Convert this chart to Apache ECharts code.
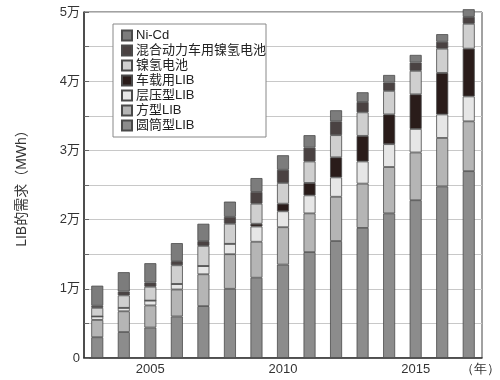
<!DOCTYPE html>
<html>
<head>
<meta charset="utf-8">
<script src="https://cdn.jsdelivr.net/npm/echarts@6/dist/echarts.min.js"></script>
<style>html,body{margin:0;padding:0;background:#fff;}#c{width:500px;height:380px;}</style>
</head>
<body>
<div id="c"></div>
<script>
var years = ['2003','2004','2005','2006','2007','2008','2009','2010','2011','2012','2013','2014','2015','2016','2017'];
var cylindrical = [3000, 3750, 4400, 6000, 7500, 10000, 11600, 13500, 15300, 16900, 18800, 20900, 22800, 24800, 27000];
var prismatic   = [2500, 3000, 3200, 3900, 4600, 5000, 5200, 5400, 5600, 6400, 6400, 6700, 6900, 7000, 7200];
var laminate    = [500, 500, 700, 800, 1200, 1500, 2200, 2300, 2600, 2800, 3200, 3300, 3400, 3400, 3600];
var automotive  = [0, 0, 0, 0, 0, 0, 400, 1100, 1800, 2900, 3700, 4300, 5000, 6000, 6900];
var nimh        = [1250, 1800, 2000, 2700, 2900, 2900, 2900, 3000, 3100, 3200, 3400, 3400, 3400, 3500, 3600];
var hevNimh     = [300, 550, 600, 600, 700, 1000, 1700, 1900, 2000, 2000, 1500, 1200, 1200, 1000, 1000];
var nicd        = [2900, 2800, 2800, 2600, 2500, 2200, 2000, 2100, 1800, 1600, 1400, 1100, 1100, 1100, 1100];
var shownYears = ['2005','2010','2015'];
var yName = 'LIB的需求（MWh）';
var xUnit = '（年）';
var legendOrder = ['Ni-Cd','混合动力车用镍氢电池','镍氢电池','车载用LIB','层压型LIB','方型LIB','圆筒型LIB'];

var FONT = "'Liberation Sans','Noto Sans CJK SC',sans-serif";
function s(name, data, color) {
  return {
    name: name, type: 'bar', stack: 'total', data: data, barWidth: 12, clip: false,
    itemStyle: { color: color, borderColor: '#4a4a4a', borderWidth: 0.8 }
  };
}
var chart = echarts.init(document.getElementById('c'), null, {renderer: 'canvas'});
chart.setOption({
  animation: false,
  textStyle: { fontFamily: FONT },
  grid: { left: 84, right: 18, top: 12, bottom: 22, show: true, borderColor: '#444', borderWidth: 1, backgroundColor: 'transparent' },
  legend: {
    data: legendOrder, orient: 'vertical', left: 113, top: 24,
    padding: [5, 0, 5, 8], itemWidth: 10, itemHeight: 10, itemGap: 2,
    backgroundColor: '#fff', borderColor: '#888', borderWidth: 1, borderRadius: 0,
    icon: 'rect',
    textStyle: { fontSize: 13, color: '#222', fontFamily: FONT, lineHeight: 13, padding: [0,0,0,-1] }
  },
  xAxis: {
    type: 'category', data: years,
    axisLine: { lineStyle: { color: '#333', width: 1.5 } },
    axisTick: { show: false },
    axisLabel: {
      margin: 5, fontSize: 13, color: '#333', fontFamily: FONT,
      interval: function (i, v) { return shownYears.indexOf(v) >= 0; }
    }
  },
  yAxis: {
    type: 'value', min: 0, max: 50000, interval: 5000,
    name: yName, nameLocation: 'middle', nameGap: 55,
    nameTextStyle: { fontSize: 14, color: '#333', fontFamily: FONT },
    axisLine: { show: true, lineStyle: { color: '#333', width: 1.5 } },
    axisTick: { show: true, inside: true, length: 5, lineStyle: { color: '#666' } },
    axisLabel: {
      margin: 4, fontSize: 13, color: '#333', fontFamily: FONT,
      formatter: function (v) { return v === 0 ? '0' : (v % 10000 === 0 ? (v / 10000) + '万' : ''); }
    },
    splitLine: { lineStyle: { color: '#c8c8c8', width: 1 } }
  },
  graphic: [{
    type: 'text', x: 480, y: 369,
    style: { text: xUnit, fontSize: 13, fill: '#333', font: '13px ' + FONT, textAlign: 'center', textVerticalAlign: 'middle' }
  }],
  series: [
    s('圆筒型LIB', cylindrical, '#8c8c8c'),
    s('方型LIB', prismatic, '#b5b5b5'),
    s('层压型LIB', laminate, '#e6e6e6'),
    s('车载用LIB', automotive, '#2a1c1a'),
    s('镍氢电池', nimh, '#cfcfcf'),
    s('混合动力车用镍氢电池', hevNimh, '#4a4242'),
    s('Ni-Cd', nicd, '#7c7c7c')
  ]
});
</script>
</body>
</html>
